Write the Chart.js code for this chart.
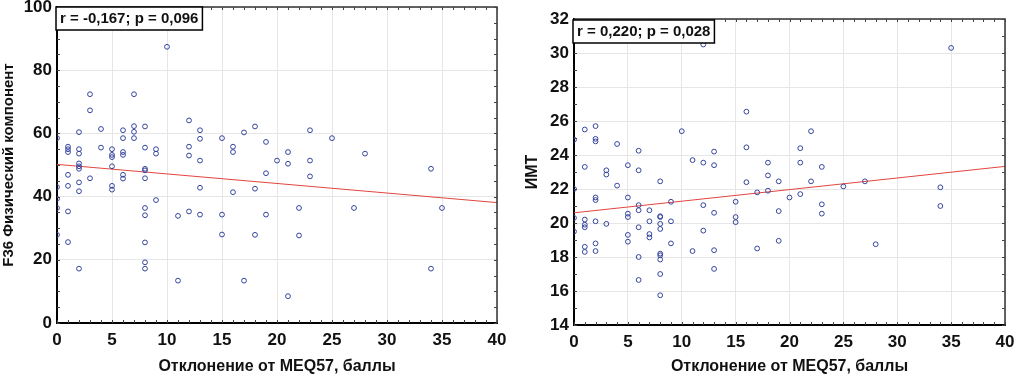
<!DOCTYPE html>
<html>
<head>
<meta charset="utf-8">
<script src="https://cdn.jsdelivr.net/npm/chart.js@4.4.1/dist/chart.umd.min.js"></script>
<style>
    body { margin: 0; background: #fff; }
    #wrap { position: relative; width: 1014px; height: 377px; }
    #c1 { position: absolute; left: 0; top: 0; }
    #c2 { position: absolute; left: 510px; top: 0; }
</style>
</head>
<body>
<div id="wrap">
    <canvas id="c1" width="510" height="377"></canvas>
    <canvas id="c2" width="504" height="377"></canvas>
</div>
<script>
/////////////////////////////// Data ///////////////////////////////

// Deviation from MEQ57 (points), left chart
const f36X = [0,0,0,0,0, 1,1,1,1,1,1,1, 2,2,2,2,2,2,2,2,2, 3,3,3, 4,4, 5,5,5,5,5,5,
    6,6,6,6,6,6, 7,7,7,7, 8,8,8,8,8,8,8,8,8,8, 9,9,9, 10, 11,11, 12,12,12,12,
    13,13,13,13,13, 15,15,15, 16,16,16, 17,17, 18,18,18, 19,19,19, 20, 21,21,21,
    22,22, 23,23,23, 25, 27, 28, 34,34, 35];
// F36 physical component
const f36Y = [58.5,43,39.3,36.4,27.9, 55.8,55,54.1,46.9,43.4,35.3,25.6,
    60.4,55,53.6,50.5,49.6,48.8,44.5,41.7,17.2, 72.4,67.3,45.8, 61.4,55.5,
    55,53.2,52.5,49.6,43.4,42.2, 61,58.5,54.1,53.2,46.9,45.7, 72.4,62.3,60.5,58.5,
    62.2,55.5,48.8,48.3,45.8,36.4,34.1,25.5,19.2,17.2, 55,53.6,38.9, 87.4, 33.9,13.4,
    64.1,55.8,53,35.3, 61,58.3,51.4,42.8,34.3, 58.5,34.3,28, 55.8,54.1,41.4, 60.3,13.4,
    62.2,42.5,27.9, 57.3,47.4,34.3, 51.4, 54.1,50.4,8.5, 36.4,27.7, 61,51.4,46.4,
    58.5, 36.4, 53.6, 48.8,17.2, 36.4];

// Deviation from MEQ57 (points), right chart
const imtX = [0,0,0,0, 1,1,1,1,1,1,1, 2,2,2,2,2,2,2,2, 3,3,3, 4,4, 5,5,5,5,5,5,
    6,6,6,6,6,6,6, 7,7,7,7, 8,8,8,8,8,8,8,8,8,8, 9,9,9, 10, 11,11, 12,12,12,12,
    13,13,13,13,13, 15,15,15, 16,16,16, 17,17, 18,18,18, 19,19,19, 20, 21,21,21,
    22,22, 23,23,23, 25, 27, 28, 34,34, 35];
// BMI
const imtY = [24.9,22.0,20.3,19.5, 25.5,23.3,20.2,19.9,19.75,18.6,18.3,
    25.7,24.95,24.8,21.5,21.35,20.1,18.8,18.35, 23.1,22.85,19.95, 24.65,22.2,
    23.4,21.5,20.55,20.35,19.3,18.9, 24.25,23.1,21.05,20.75,19.75,18.0,16.65,
    20.75,20.1,19.35,19.15, 22.45,20.4,20.35,19.95,19.65,18.2,18.1,17.85,17.0,15.75,
    21.25,20.1,18.8, 25.4, 23.7,18.35, 30.5,23.55,21.05,19.55, 24.2,23.4,20.6,18.4,17.3,
    21.25,20.35,20.05, 26.55,24.45,22.4, 21.8,18.5, 23.55,22.8,21.9, 22.45,20.7,18.95,
    21.5, 24.4,23.55,21.7, 25.4,22.45, 23.3,21.1,20.55, 22.15, 22.45, 18.75,
    22.1,21.0, 30.3];

// Regression lines (ends at x = 0 and x = 40)
const fitX = [0, 40];
const f36Fit = [50.2, 38.1];
const imtFit = [20.6, 23.33];

const xTitle = 'Отклонение от MEQ57, баллы';

/////////////////////////////// Plugins ///////////////////////////////

// Frame on top/right plus small inward minor ticks on all four sides
const framePlugin = {
    id: 'frame',
    afterDatasetsDraw(chart, args, opts) {
        const ctx = chart.ctx;
        const a = chart.chartArea;
        const xs = chart.scales.x, ys = chart.scales.y;
        ctx.save();
        ctx.strokeStyle = '#333';
        ctx.lineWidth = 1.5;
        ctx.beginPath();
        ctx.moveTo(a.left, a.top);
        ctx.lineTo(a.right, a.top);
        ctx.lineTo(a.right, a.bottom);
        ctx.stroke();

        ctx.lineWidth = 1;
        ctx.strokeStyle = '#444';
        ctx.beginPath();
        for (let v = xs.min; v <= xs.max; v += opts.minorX) {
            const px = Math.round(xs.getPixelForValue(v)) + 0.5;
            ctx.moveTo(px, a.bottom); ctx.lineTo(px, a.bottom - 3);
            ctx.moveTo(px, a.top); ctx.lineTo(px, a.top + 3);
        }
        for (let v = ys.min; v <= ys.max; v += opts.minorY) {
            const py = Math.round(ys.getPixelForValue(v)) + 0.5;
            ctx.moveTo(a.left, py); ctx.lineTo(a.left + 3, py);
            ctx.moveTo(a.right, py); ctx.lineTo(a.right - 3, py);
        }
        ctx.stroke();
        ctx.restore();
    }
};

// Boxed r / p label in the upper-left corner of the plot
const statPlugin = {
    id: 'stat',
    afterDraw(chart, args, opts) {
        const ctx = chart.ctx;
        const a = chart.chartArea;
        ctx.save();
        ctx.font = 'bold 15px "Liberation Sans", Arial, sans-serif';
        const w = ctx.measureText(opts.text).width + 8;
        const x = a.left - 1 + opts.dx, y = a.top + opts.dy;
        ctx.fillStyle = '#fff';
        ctx.fillRect(x, y, w, 23);
        ctx.strokeStyle = '#000';
        ctx.lineWidth = 1.5;
        ctx.strokeRect(x, y, w, 23);
        ctx.fillStyle = '#111';
        ctx.textBaseline = 'middle';
        ctx.fillText(opts.text, x + 4, y + 12);
        ctx.restore();
    }
};

/////////////////////////////// Charts ///////////////////////////////

const font = { family: '"Liberation Sans", Arial, sans-serif', weight: 'bold', size: 17 };

function makeChart(id, xs, ys, fit, cfg) {
    const points = xs.map((x, i) => ({ x: x, y: ys[i] }));
    const line = fitX.map((x, i) => ({ x: x, y: fit[i] }));

    return new Chart(document.getElementById(id), {
        type: 'scatter',
        data: {
            datasets: [
                {
                    data: points,
                    pointStyle: 'circle',
                    pointRadius: 2.4,
                    pointBorderWidth: 1,
                    pointBorderColor: '#34449c',
                    pointBackgroundColor: 'rgba(255,255,255,0)',
                    clip: 0
                },
                {
                    type: 'line',
                    data: line,
                    borderColor: '#e2453f',
                    borderWidth: 1,
                    pointRadius: 0,
                    clip: 0
                }
            ]
        },
        options: {
            responsive: false,
            animation: false,
            events: [],
            layout: { padding: cfg.padding },
            plugins: {
                legend: { display: false },
                tooltip: { enabled: false },
                frame: { minorX: 1, minorY: cfg.minorY },
                stat: { text: cfg.stat, dx: 0, dy: cfg.statDy }
            },
            scales: {
                x: {
                    type: 'linear',
                    min: 0, max: 40,
                    ticks: { stepSize: 5, font: font, color: '#111', padding: 7 },
                    grid: { color: '#e6e6e6', drawTicks: false },
                    border: { color: '#000', width: 2 },
                    title: { display: true, text: xTitle, font: { ...font, size: 16 }, color: '#111', padding: { top: 0, bottom: 1 } },
                    afterFit(scale) {
                        scale.height = cfg.xHeight;
                        scale.paddingLeft = 0;
                        scale.paddingRight = 0;
                    }
                },
                y: {
                    min: cfg.yMin, max: cfg.yMax,
                    ticks: { stepSize: cfg.yStep, font: font, color: '#111', padding: 5 },
                    grid: { color: '#e6e6e6', drawTicks: false },
                    border: { color: '#000', width: 2 },
                    title: { display: true, text: cfg.yTitle, font: { ...font, size: cfg.yTitleSize, lineHeight: 1 }, color: '#111', padding: { top: cfg.yTitlePad, bottom: 0 } },
                    afterFit(scale) {
                        scale.width = cfg.yWidth;
                        scale.paddingTop = 0;
                        scale.paddingBottom = 0;
                    }
                }
            }
        },
        plugins: [framePlugin, statPlugin]
    });
}

makeChart('c1', f36X, f36Y, f36Fit, {
    padding: { top: 7, right: 13, left: 0, bottom: 0 },
    xHeight: 54, yWidth: 57,
    yMin: 0, yMax: 100, yStep: 20, minorY: 5,
    yTitle: 'F36 Физический компонент', yTitleSize: 15, yTitlePad: 1,
    stat: 'r = -0,167; p = 0,096', statDy: 0
});

makeChart('c2', imtX, imtY, imtFit, {
    padding: { top: 19, right: 9, left: 0, bottom: 0 },
    xHeight: 52, yWidth: 64,
    yMin: 14, yMax: 32, yStep: 2, minorY: 1,
    yTitle: 'ИМТ', yTitleSize: 16, yTitlePad: 15,
    stat: 'r = 0,220; p = 0,028', statDy: 1
});
</script>
</body>
</html>
